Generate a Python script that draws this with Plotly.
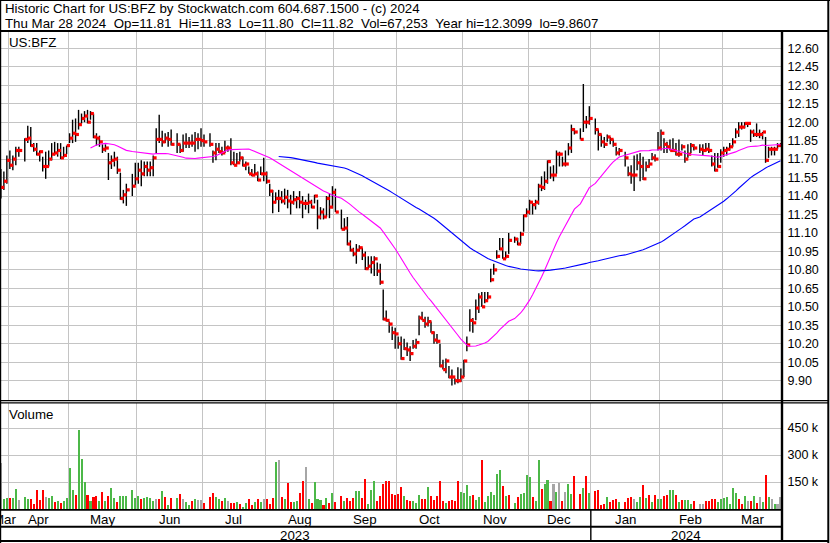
import numpy as np
import pandas as pd
import plotly.graph_objects as go

# ------------------------------------------------------------------ data
axis_start = "2023-03-28"
axis_end = "2024-03-28"
first_trade = "2023-03-29"
market_holidays = ["2023-04-07", "2023-05-29", "2023-06-19", "2023-07-04",
                   "2023-09-04", "2023-11-23", "2023-12-25", "2024-01-01",
                   "2024-01-15", "2024-02-19"]

high = (
    [11.62, 11.60, 11.73] +
    [11.77, 11.73, 11.80, 11.80, 11.87, 11.97, 11.96, 11.83, 11.83, 11.77, 11.72, 11.76, 11.77, 11.83, 11.84, 11.83, 11.83, 11.80, 11.81] +
    [11.91, 12.02, 12.03, 12.10, 12.07, 12.09, 12.10, 12.09, 12.07, 11.91, 11.89, 11.82, 11.82, 11.75, 11.73, 11.76, 11.72, 11.59, 11.45, 11.50, 11.58, 11.67] +
    [11.67, 11.69, 11.68, 11.68, 11.68, 11.73, 11.95, 12.06, 11.93, 11.91, 11.92, 11.94, 11.91, 11.82, 11.90, 11.91, 11.88, 11.90, 11.92, 11.91, 11.95] +
    [11.90, 11.91, 11.77, 11.83, 11.83, 11.80, 11.85, 11.81, 11.87, 11.76, 11.75, 11.76, 11.72, 11.68, 11.64, 11.62, 11.66, 11.60, 11.64, 11.71] +
    [11.60, 11.50, 11.45, 11.43, 11.45, 11.44, 11.46, 11.45, 11.41, 11.44, 11.40, 11.44, 11.40, 11.37, 11.42, 11.37, 11.41, 11.37, 11.31, 11.30, 11.40, 11.42, 11.48] +
    [11.46, 11.29, 11.22, 11.23, 11.04, 10.98, 11.01, 11.00, 10.98, 10.95, 10.91, 10.91, 10.91, 10.86, 10.85, 10.64, 10.47, 10.38, 10.34, 10.33] +
    [10.26, 10.26, 10.24, 10.21, 10.18, 10.23, 10.24, 10.43, 10.46, 10.42, 10.42, 10.38, 10.30, 10.28, 10.20, 10.07, 10.08, 10.02, 9.99, 9.92, 10.01, 10.00] +
    [10.07, 10.26, 10.48, 10.41, 10.56, 10.61, 10.62, 10.62, 10.62, 10.81, 10.85, 10.96, 11.06, 11.06, 10.95, 11.10, 11.07, 11.06, 11.11, 11.25, 11.30] +
    [11.37, 11.34, 11.37, 11.50, 11.56, 11.60, 11.69, 11.64, 11.65, 11.77, 11.76, 11.72, 11.77, 11.83, 11.98, 11.95, 11.95, 12.31, 12.05, 12.13] +
    [12.03, 11.94, 11.90, 11.88, 11.90, 11.88, 11.86, 11.80, 11.79, 11.76, 11.64, 11.65, 11.73, 11.74, 11.75, 11.72, 11.68, 11.70, 11.75, 11.74, 11.92] +
    [11.94, 11.87, 11.84, 11.86, 11.87, 11.83, 11.86, 11.82, 11.77, 11.82, 11.83, 11.82, 11.82, 11.82, 11.83, 11.83, 11.73, 11.75, 11.75, 11.78] +
    [11.80, 11.80, 11.83, 11.87, 11.95, 12.00, 12.00, 12.00, 12.00, 11.94, 11.94, 11.99, 11.94, 11.92, 11.88, 11.80, 11.80, 11.80, 11.83, 11.83]
)

low = (
    [11.38, 11.45, 11.50] +
    [11.62, 11.61, 11.65, 11.72, 11.68, 11.83, 11.80, 11.76, 11.73, 11.68, 11.60, 11.54, 11.64, 11.69, 11.73, 11.72, 11.70, 11.71, 11.74] +
    [11.83, 11.83, 11.84, 11.94, 11.99, 12.00, 11.99, 12.02, 11.87, 11.81, 11.80, 11.75, 11.76, 11.53, 11.62, 11.64, 11.58, 11.37, 11.34, 11.32, 11.40, 11.49] +
    [11.50, 11.48, 11.56, 11.56, 11.56, 11.56, 11.75, 11.83, 11.80, 11.83, 11.80, 11.81, 11.75, 11.75, 11.76, 11.79, 11.79, 11.80, 11.76, 11.78, 11.80] +
    [11.80, 11.80, 11.67, 11.69, 11.75, 11.73, 11.75, 11.76, 11.65, 11.65, 11.66, 11.68, 11.64, 11.61, 11.58, 11.56, 11.57, 11.52, 11.57, 11.52] +
    [11.50, 11.40, 11.26, 11.34, 11.27, 11.34, 11.33, 11.30, 11.25, 11.33, 11.30, 11.30, 11.22, 11.29, 11.26, 11.30, 11.34, 11.13, 11.21, 11.21, 11.23, 11.22, 11.30] +
    [11.27, 11.13, 11.12, 11.00, 10.95, 10.91, 10.85, 10.95, 10.88, 10.80, 10.81, 10.77, 10.75, 10.75, 10.68, 10.39, 10.38, 10.29, 10.23, 10.16] +
    [10.16, 10.07, 10.15, 10.10, 10.06, 10.16, 10.16, 10.27, 10.39, 10.33, 10.34, 10.29, 10.20, 10.20, 10.01, 9.99, 9.96, 9.92, 9.86, 9.87, 9.88, 9.89] +
    [9.93, 10.14, 10.30, 10.29, 10.39, 10.45, 10.50, 10.53, 10.56, 10.70, 10.76, 10.89, 10.96, 10.89, 10.89, 10.93, 11.02, 11.00, 11.01, 11.11, 11.23] +
    [11.25, 11.25, 11.29, 11.33, 11.44, 11.45, 11.50, 11.54, 11.52, 11.58, 11.64, 11.64, 11.64, 11.73, 11.75, 11.90, 11.86, 11.92, 11.95, 11.98] +
    [11.90, 11.77, 11.80, 11.79, 11.84, 11.82, 11.80, 11.73, 11.73, 11.64, 11.56, 11.50, 11.44, 11.61, 11.52, 11.53, 11.60, 11.63, 11.69, 11.68, 11.77] +
    [11.77, 11.75, 11.75, 11.77, 11.76, 11.73, 11.72, 11.77, 11.67, 11.71, 11.75, 11.77, 11.75, 11.73, 11.76, 11.75, 11.64, 11.60, 11.63, 11.67] +
    [11.72, 11.73, 11.77, 11.80, 11.87, 11.88, 11.94, 11.95, 11.96, 11.84, 11.88, 11.88, 11.87, 11.86, 11.67, 11.71, 11.73, 11.73, 11.78, 11.80]
)

close = (
    [11.47, 11.52, 11.69] +
    [11.65, 11.70, 11.77, 11.77, 11.86, 11.87, 11.81, 11.78, 11.74, 11.76, 11.64, 11.64, 11.70, 11.74, 11.75, 11.77, 11.71, 11.73, 11.81] +
    [11.87, 11.91, 11.90, 11.98, 12.03, 12.05, 12.00, 12.07, 11.88, 11.87, 11.84, 11.78, 11.79, 11.67, 11.69, 11.70, 11.61, 11.38, 11.41, 11.45, 11.48, 11.54] +
    [11.61, 11.58, 11.64, 11.61, 11.63, 11.71, 11.86, 11.86, 11.84, 11.87, 11.86, 11.82, 11.82, 11.77, 11.83, 11.83, 11.83, 11.83, 11.86, 11.86, 11.85] +
    [11.84, 11.82, 11.75, 11.78, 11.76, 11.75, 11.79, 11.79, 11.67, 11.65, 11.67, 11.71, 11.65, 11.66, 11.58, 11.57, 11.58, 11.53, 11.58, 11.58] +
    [11.52, 11.44, 11.35, 11.38, 11.38, 11.36, 11.39, 11.36, 11.35, 11.37, 11.38, 11.35, 11.34, 11.34, 11.35, 11.31, 11.40, 11.23, 11.27, 11.23, 11.38, 11.31, 11.43] +
    [11.27, 11.13, 11.14, 11.01, 10.96, 10.93, 10.96, 10.98, 10.92, 10.81, 10.83, 10.86, 10.89, 10.79, 10.70, 10.40, 10.39, 10.36, 10.29, 10.28] +
    [10.20, 10.08, 10.16, 10.15, 10.12, 10.18, 10.21, 10.41, 10.39, 10.36, 10.38, 10.29, 10.23, 10.22, 10.02, 9.99, 10.06, 9.93, 9.93, 9.90, 9.90, 9.93] +
    [10.06, 10.19, 10.39, 10.37, 10.49, 10.58, 10.50, 10.55, 10.58, 10.72, 10.80, 10.91, 10.97, 10.89, 10.91, 11.04, 11.05, 11.01, 11.09, 11.24, 11.27] +
    [11.35, 11.33, 11.35, 11.48, 11.47, 11.52, 11.68, 11.57, 11.57, 11.74, 11.74, 11.66, 11.66, 11.79, 11.94, 11.92, 11.86, 12.00, 12.00, 12.03] +
    [11.94, 11.90, 11.84, 11.82, 11.88, 11.86, 11.82, 11.75, 11.77, 11.71, 11.58, 11.57, 11.57, 11.67, 11.64, 11.54, 11.64, 11.66, 11.71, 11.70, 11.79] +
    [11.91, 11.82, 11.80, 11.77, 11.77, 11.74, 11.74, 11.80, 11.70, 11.74, 11.81, 11.79, 11.78, 11.77, 11.78, 11.77, 11.66, 11.61, 11.64, 11.75] +
    [11.77, 11.78, 11.80, 11.84, 11.92, 11.96, 11.96, 11.99, 11.99, 11.92, 11.90, 11.90, 11.90, 11.92, 11.69, 11.78, 11.78, 11.78, 11.81, 11.82]
)

volume = (
    [257000, 55600, 61100] +
    [61100, 61100, 111100, 50000, 66700, 55600, 55600, 29600, 105600, 50000, 105600, 66700, 61100, 72200, 38900, 44400, 33300, 44400, 61100] +
    [227800, 105600, 77800, 438900, 277800, 151900, 77800, 44400, 66700, 72200, 44400, 94400, 44400, 72200, 116700, 61100, 38900, 72200, 72200, 72200, 105600, 61100] +
    [72200, 55600, 61100, 66700, 61100, 44400, 55600, 55600, 100000, 66700, 22200, 61100, 61100, 83300, 55600, 38900, 22200, 44400, 55600, 50000, 50000] +
    [33300, 66700, 88900, 66700, 55600, 44400, 61100, 44400, 33300, 33300, 38900, 27800, 11100, 33300, 55600, 22200, 38900, 55600, 38900, 55600] +
    [55600, 27800, 61100, 261100, 272200, 66700, 55600, 144400, 38900, 38900, 44400, 88900, 155600, 233300, 55600, 33300, 150000, 55600, 50000, 22200, 61100, 33300, 88900] +
    [38900, 72200, 44400, 61100, 44400, 61100, 100000, 100000, 61100, 166700, 27800, 105600, 155600, 44400, 72200, 138900, 155600, 155600, 83300, 77800] +
    [83300, 122200, 72200, 50000, 44400, 44400, 33300, 77800, 55600, 55600, 122200, 72200, 50000, 72200, 155600, 44400, 33300, 44400, 50000, 44400, 155600, 94400] +
    [88900, 133300, 72200, 77800, 50000, 66700, 272200, 38900, 72200, 94400, 77800, 194400, 216700, 127800, 72200, 77800, 33300, 66700, 83300, 88900, 188900] +
    [177800, 66700, 44400, 272200, 111100, 138900, 161100, 44400, 138900, 94400, 144400, 44400, 94400, 138900, 83300, 183300, 83300, 116700, 183300, 88900] +
    [100000, 105600, 22200, 27800, 66700, 38900, 50000, 57400, 38900, 38900, 61100, 66700, 55600, 38900, 66700, 133300, 61100, 77800, 38900, 77800, 55600] +
    [55600, 72200, 77800, 105600, 105600, 77800, 38900, 50000, 50000, 50000, 27800, 44400, 27800, 27800, 44400, 44400, 55600, 55600, 38900, 55600] +
    [61100, 66700, 27800, 116700, 88900, 55600, 27800, 72200, 44400, 44400, 72200, 33300, 66700, 38900, 188900, 66700, 55600, 27800, 27800, 67253]
)

# volume bar direction: g = up, r = down, n = unchanged
vol_dir = (
    "ngg"
    "rggnggrrrrrnggrgrgg"
    "ggrgggrgrrgrgrggrggggg"
    "grggggnrgrgrgrnggrgnn"
    "rrrggrgnrrgrggrrgrgn"
    "rrrgnrgrrggrrngrgggrgrg"
    "rrgrrrggrrgggrrrrrrr"
    "rrgrrgggrrgrrrrrgrrrrg"
    "gggrggrggggggrgrgrggg"
    "grggrggrngnrnggrrgrg"
    "rrrrgrrrgrrrnggrgrgrg"
    "grrggrgrgggrnnrrrrgg"
    "gggggrrgnrgrngrgngnn"
)

ma_periods = (30, 90)
price_ticks = [9.90, 10.05, 10.20, 10.35, 10.50, 10.65, 10.80, 10.95, 11.10,
               11.25, 11.40, 11.55, 11.70, 11.85, 12.00, 12.15, 12.30, 12.45, 12.60]
volume_ticks = [150000, 300000, 450000]
volume_tick_text = ["150 k", "300 k", "450 k"]

title_line1 = "Historic Chart for US:BFZ by Stockwatch.com 604.687.1500 - (c) 2024"
title_line2 = ("Thu Mar 28 2024  Op=11.81  Hi=11.83  Lo=11.80  Cl=11.82  "
               "Vol=67,253  Year hi=12.3099  lo=9.8607")
symbol_label = "US:BFZ"
volume_label = "Volume"

# ------------------------------------------------------------------ geometry (pixels)
W, H = 830, 543
BAR_PX = 2.987          # pixels per weekday slot
X0_PX = -2.1            # pixel of the first weekday slot
PLOT_R = 782            # right edge of plot panels (axis line)
PRICE_TOP, PRICE_BOT = 32, 400
VOL_TOP, VOL_BOT = 403, 509
PRICE_REF, PRICE_REF_Y, PRICE_PX = 12.60, 48.3, 123.11
VOL_PX_PER_150K = 27.0

FONT = "Liberation Sans, Arial, Helvetica, sans-serif"
TXT = 13.3
GRID = "#c4c4c4"
COL_UP, COL_DN, COL_FLAT = "#4cb848", "#ff0000", "#a6a6a6"


def fx(px):
    return px / W


def fy(py):
    return 1 - py / H


# ------------------------------------------------------------------ calendar
weekdays = pd.bdate_range(axis_start, axis_end)
hol = pd.to_datetime(market_holidays)
trade_days = weekdays[(weekdays >= pd.Timestamp(first_trade)) & (~weekdays.isin(hol))]
slot = {d: i for i, d in enumerate(weekdays)}
x = np.array([slot[d] for d in trade_days], dtype=float)

n = len(trade_days)
assert len(high) == n and len(low) == n and len(close) == n
assert len(volume) == n and len(vol_dir) == n

x_lo = (0 - X0_PX) / BAR_PX
x_hi = (PLOT_R - X0_PX) / BAR_PX

months = weekdays.to_period("M")
month_bounds = [i - 0.5 for i in range(1, len(weekdays)) if months[i] != months[i - 1]]

price_range = [PRICE_REF - (PRICE_BOT - PRICE_REF_Y) / PRICE_PX,
               PRICE_REF + (PRICE_REF_Y - PRICE_TOP) / PRICE_PX]
vol_range = [0, (VOL_BOT - VOL_TOP) / VOL_PX_PER_150K * 150000]

# ------------------------------------------------------------------ traces
hl_x, hl_y = [], []
for xi, h, l in zip(x, high, low):
    hl_x += [xi, xi, None]
    hl_y += [l, h, None]

close_s = pd.Series(close)
ma_fast = close_s.rolling(ma_periods[0]).mean()
ma_slow = close_s.rolling(ma_periods[1]).mean()

dir_color = {"g": COL_UP, "r": COL_DN, "n": COL_FLAT}
vol_colors = [dir_color[c] for c in vol_dir]

fig = go.Figure()
fig.add_trace(go.Scatter(x=hl_x, y=hl_y, mode="lines",
                         line=dict(color="black", width=1.4),
                         xaxis="x", yaxis="y", hoverinfo="skip"))
fig.add_trace(go.Scatter(x=x + 0.6, y=close, mode="markers",
                         marker=dict(symbol="square", size=3.2, color="#ff0000",
                                     line=dict(width=0)),
                         xaxis="x", yaxis="y", hoverinfo="skip"))
fig.add_trace(go.Scatter(x=x, y=ma_fast, mode="lines",
                         line=dict(color="#ff00ff", width=1.1),
                         xaxis="x", yaxis="y", hoverinfo="skip"))
fig.add_trace(go.Scatter(x=x, y=ma_slow, mode="lines",
                         line=dict(color="#0000ff", width=1.1),
                         xaxis="x", yaxis="y", hoverinfo="skip"))
fig.add_trace(go.Bar(x=x, y=volume, width=0.68,
                     marker=dict(color=vol_colors, line=dict(width=0)),
                     xaxis="x2", yaxis="y2", hoverinfo="skip"))

# ------------------------------------------------------------------ annotations
ann = []


def text(px, py, s, size=TXT, xanchor="left", xref="paper", xval=None):
    ann.append(dict(x=fx(px) if xval is None else xval, y=fy(py),
                    xref=xref, yref="paper", text=s.replace(" ", "\u00a0"),
                    showarrow=False, xanchor=xanchor, yanchor="middle",
                    font=dict(family=FONT, size=size, color="black")))


text(2.5, 9, title_line1)
text(2.5, 23, title_line2)
text(7, 42.5, symbol_label)
text(7, 414, volume_label)

# month labels centered in the visible part of each month
for per in months.unique():
    idx = np.where(months == per)[0]
    a = max(idx[0] - 0.5, x_lo)
    b = min(idx[-1] + 0.5, x_hi)
    if b > a:
        text(0, 519, per.strftime("%b"), xanchor="center", xref="x", xval=(a + b) / 2)

years = weekdays.year
for yr in sorted(set(years)):
    idx = np.where(years == yr)[0]
    a = max(idx[0] - 0.5, x_lo)
    b = min(idx[-1] + 0.5, x_hi)
    text(0, 535, str(yr), xanchor="center", xref="x", xval=(a + b) / 2)
year_bound = [i - 0.5 for i in range(1, len(weekdays)) if years[i] != years[i - 1]]

# ------------------------------------------------------------------ frame lines
shapes = []


def hline(py, x0, x1, w):
    shapes.append(dict(type="line", xref="paper", yref="paper",
                       x0=fx(x0), x1=fx(x1), y0=fy(py), y1=fy(py),
                       line=dict(color="black", width=w)))


def vline(px, y0, y1, w):
    shapes.append(dict(type="line", xref="paper", yref="paper",
                       x0=fx(px), x1=fx(px), y0=fy(y0), y1=fy(y1),
                       line=dict(color="black", width=w)))


hline(0.5, 0, W, 1)
hline(31, 0, 829, 2)
hline(400.6, 0, 829, 1.2)
hline(402.9, 0, 829, 1.2)
hline(509.8, 0, PLOT_R, 1.8)
hline(526.7, 0, PLOT_R, 2)
hline(541, 0, 829, 2)
vline(0.6, 0, H, 1.2)
vline(PLOT_R, 31, 542, 2.4)
vline(828.3, 0, H, 2)
for xb in year_bound:
    shapes.append(dict(type="line", xref="x", yref="paper", x0=xb, x1=xb,
                       y0=fy(509), y1=fy(541),
                       line=dict(color="black", width=1.4)))

# ------------------------------------------------------------------ layout
xcommon = dict(range=[x_lo, x_hi], domain=[0, fx(PLOT_R)], tickmode="array",
               tickvals=month_bounds, showticklabels=False, ticks="",
               showgrid=True, gridcolor=GRID, gridwidth=1, zeroline=False,
               showline=False, fixedrange=True)

fig.update_layout(
    width=W, height=H,
    margin=dict(l=0, r=0, t=0, b=0, pad=0),
    paper_bgcolor="white", plot_bgcolor="white",
    showlegend=False, hovermode=False, bargap=0,
    xaxis=dict(anchor="y", **xcommon),
    xaxis2=dict(anchor="y2", matches="x", **xcommon),
    yaxis=dict(domain=[fy(PRICE_BOT), fy(PRICE_TOP)], range=price_range,
               side="right", anchor="x", tickmode="array", tickvals=price_ticks,
               ticktext=[f"{v:.2f}" for v in price_ticks],
               ticks="outside", ticklen=2, tickcolor="rgba(0,0,0,0)",
               tickfont=dict(family=FONT, size=12.5, color="black"),
               showgrid=True, gridcolor=GRID, gridwidth=1, zeroline=False,
               showline=False, automargin=False, fixedrange=True),
    yaxis2=dict(domain=[fy(VOL_BOT), fy(VOL_TOP)], range=vol_range,
                side="right", anchor="x2", tickmode="array", tickvals=volume_ticks,
                ticktext=volume_tick_text,
                ticks="outside", ticklen=2, tickcolor="rgba(0,0,0,0)",
                tickfont=dict(family=FONT, size=12.5, color="black"),
                showgrid=True, gridcolor=GRID, gridwidth=1, zeroline=False,
                showline=False, automargin=False, fixedrange=True),
    annotations=ann,
    shapes=shapes,
)

page_fix = ("document.documentElement.style.margin='0';"
            "document.body.style.margin='0';"
            "document.body.style.overflow='hidden';")

fig.write_html("out.html", config={"displayModeBar": False, "staticPlot": True},
               post_script=page_fix)
